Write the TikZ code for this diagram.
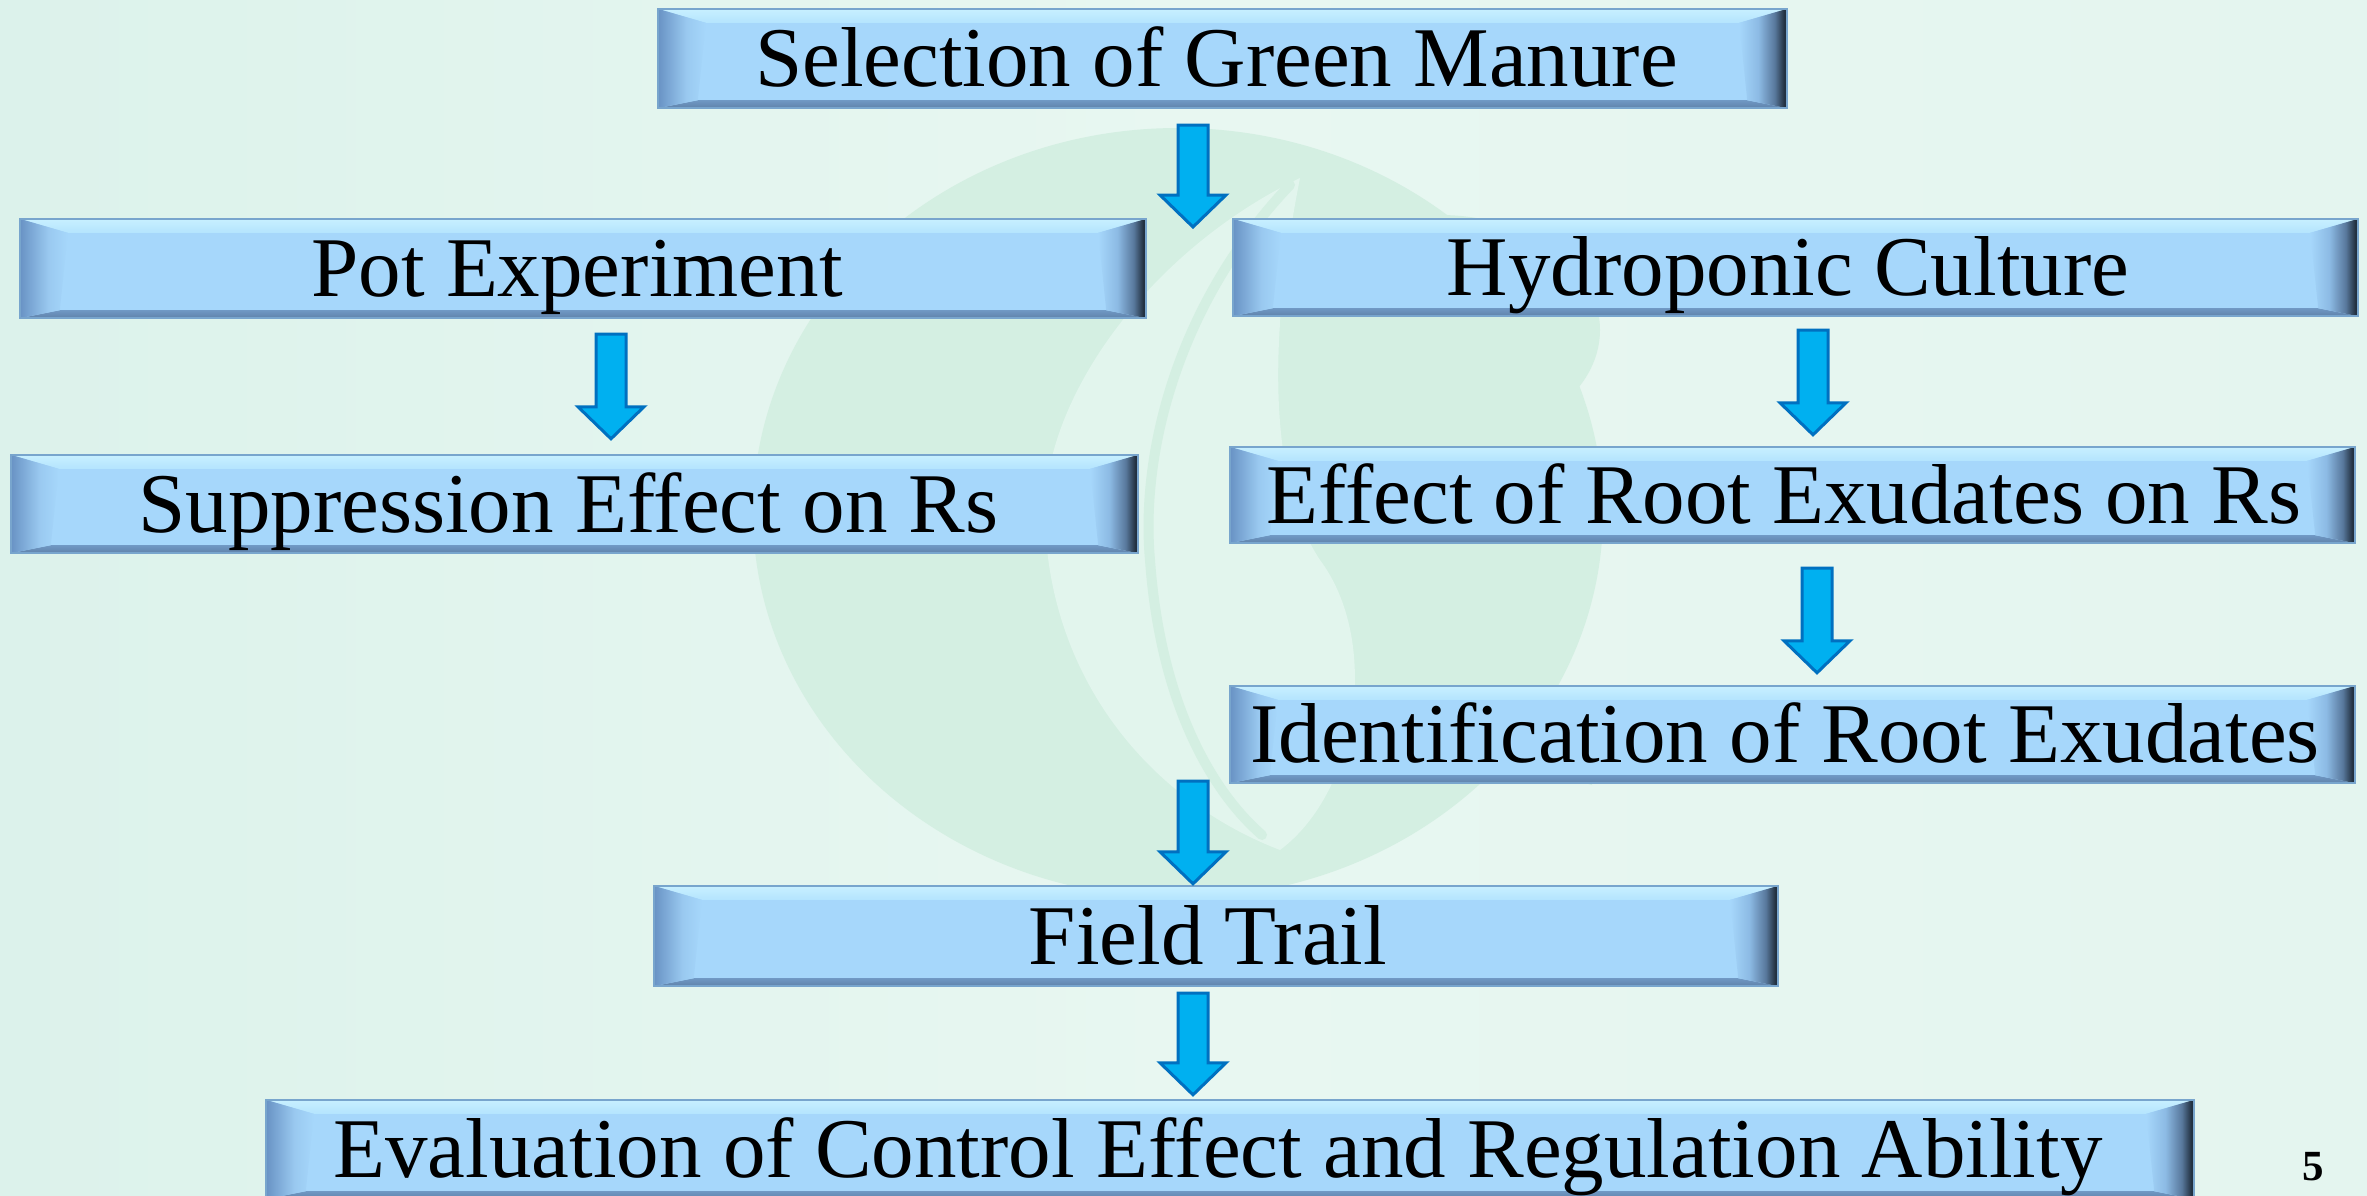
\documentclass[tikz,border=0pt]{standalone}
\usepackage{fontspec}
\setmainfont{Liberation Serif}
\usetikzlibrary{calc}
\pgfdeclarelayer{back}
\pgfdeclarelayer{bg}
\pgfsetlayers{back,bg,main}

\definecolor{face}{RGB}{166,215,251}
\definecolor{toplite}{RGB}{200,240,255}
\definecolor{topmid}{RGB}{180,228,254}
\definecolor{botbev}{RGB}{112,152,196}
\definecolor{botbevB}{RGB}{96,130,170}
\definecolor{lbev}{RGB}{104,146,196}
\definecolor{rb1}{RGB}{140,186,228}
\definecolor{rb2}{RGB}{88,120,156}
\definecolor{rb3}{RGB}{34,48,64}
\definecolor{boxline}{RGB}{120,165,205}
\definecolor{arrfill}{RGB}{0,176,240}
\definecolor{arrline}{RGB}{0,112,192}
\definecolor{bgL}{RGB}{220,242,235}
\definecolor{bgM}{RGB}{232,247,241}
\definecolor{bgR}{RGB}{228,245,239}
\definecolor{wmA}{RGB}{212,239,226}
\definecolor{wmL}{RGB}{226,245,237}

\pgfdeclarehorizontalshading{rbev}{100bp}{color(0bp)=(face); color(25bp)=(face); color(45bp)=(rb1); color(62bp)=(rb2); color(72bp)=(rb3); color(100bp)=(rb3)}
\pgfdeclarehorizontalshading{lbevsh}{100bp}{color(0bp)=(lbev); color(25bp)=(lbev); color(55bp)=(face!80!lbev); color(75bp)=(face); color(100bp)=(face)}

\tikzset{
  bbox/.style={inner sep=0pt, font=\fontsize{85}{100}\selectfont,
    text height=56pt, text depth=0pt},
  arrowsty/.style={fill=arrfill, draw=arrline, line width=3pt, line join=miter},
  pagenum/.style={inner sep=0pt, font=\fontsize{43}{50}\selectfont\bfseries}
}

\newcommand\drawbevel[1]{%
  \fill[face] (#1.south west) rectangle (#1.north east);
  \shade[top color=toplite, bottom color=topmid]
    (#1.north west) -- (#1.north east) -- ([shift={(-48pt,-14pt)}]#1.north east)
    -- ([shift={(48pt,-14pt)}]#1.north west) -- cycle;
  \shade[top color=botbev, bottom color=botbevB]
    (#1.south west) -- ([shift={(40pt,8pt)}]#1.south west)
    -- ([shift={(-40pt,8pt)}]#1.south east) -- (#1.south east) -- cycle;
  \shade[shading=lbevsh]
    (#1.south west) -- (#1.north west) -- ([shift={(48pt,-14pt)}]#1.north west)
    -- ([shift={(40pt,8pt)}]#1.south west) -- cycle;
  \shade[shading=rbev]
    ([shift={(-40pt,8pt)}]#1.south east) -- ([shift={(-48pt,-14pt)}]#1.north east)
    -- (#1.north east) -- (#1.south east) -- cycle;
  \draw[boxline, line width=1.5pt] (#1.south west) rectangle (#1.north east);
}

\newcommand\blockarrow[2]{%
  \draw[arrowsty] let \p1=(#1), \p2=(#2) in
    (\x1-15pt,\y1) -- (\x1+15pt,\y1) -- (\x1+15pt,\y2+32pt) -- (\x1+33pt,\y2+32pt)
    -- (\x1,\y2) -- (\x1-33pt,\y2+32pt) -- (\x1-15pt,\y2+32pt) -- cycle;}

\begin{document}
\begin{tikzpicture}[x=1pt,y=1pt]
\useasboundingbox (0,0) rectangle (2367,-1195);
\clip (0,0) rectangle (2367,-1195);

\begin{pgfonlayer}{back}
% background
\shade[left color=bgL, right color=bgR, middle color=bgM] (0,0) rectangle (2367,-1195);
% watermark
\fill[wmA] (1178,-513) ellipse [x radius=425, y radius=385];
\fill[wmL] (1300,-178) .. controls (1150,-250) and (1040,-400) .. (1045,-520)
  .. controls (1050,-680) and (1150,-800) .. (1280,-850)
  .. controls (1360,-790) and (1380,-640) .. (1320,-560)
  .. controls (1280,-500) and (1260,-380) .. (1300,-178) -- cycle;
\draw[wmA, line width=10pt, line cap=round] (1290,-185) .. controls (1180,-300) and (1140,-450) .. (1150,-560)
  .. controls (1160,-700) and (1210,-790) .. (1262,-835);
\fill[wmA] (1440,-330) ellipse [x radius=160, y radius=115];
\fill[wmA] (1375,-545) .. controls (1470,-580) and (1570,-660) .. (1592,-785)
  .. controls (1490,-760) and (1390,-680) .. (1375,-545) -- cycle;
\end{pgfonlayer}

% boxes
\node[bbox, minimum width=1129pt, minimum height=99pt] (b1) at (1222.5,-58.5) {Selection of Green Manure\hspace*{12pt}};
\node[bbox, minimum width=1126pt, minimum height=99pt] (b2) at (583,-268.5) {Pot Experiment\hspace*{12pt}};
\node[bbox, minimum width=1127pt, minimum height=98pt] (b3) at (574.5,-504) {Suppression Effect on Rs\hspace*{12pt}};
\node[bbox, minimum width=1125pt, minimum height=97pt] (b4) at (1795.5,-267.5) {Hydroponic Culture\hspace*{15pt}};
\node[bbox, minimum width=1125pt, minimum height=96pt] (b5) at (1792.5,-495) {Effect of Root Exudates on Rs\hspace*{17pt}};
\node[bbox, minimum width=1125pt, minimum height=97pt] (b6) at (1792.5,-734.5) {Identification of Root Exudates\hspace*{15pt}};
\node[bbox, minimum width=1124pt, minimum height=100pt] (b7) at (1216,-936) {Field Trail\hspace*{16pt}};
\node[bbox, minimum width=1928pt, minimum height=99pt] (b8) at (1230,-1149.5) {Evaluation of Control Effect and Regulation Ability\hspace*{24pt}};

\begin{pgfonlayer}{bg}
\foreach \n in {b1,b2,b3,b4,b5,b6,b7,b8} {\drawbevel{\n}}
\end{pgfonlayer}

% arrows
\coordinate (a1s) at ([yshift=-17pt]b1.south -| 1193,0);
\coordinate (a1e) at (1193,-227);
\coordinate (a2s) at ([yshift=-16pt]b2.south -| 611,0);
\coordinate (a2e) at ([yshift=16pt]b3.north -| 611,0);
\coordinate (a3s) at ([yshift=-14pt]b4.south -| 1813,0);
\coordinate (a3e) at ([yshift=12pt]b5.north -| 1813,0);
\coordinate (a4s) at ([yshift=-25pt]b5.south -| 1817,0);
\coordinate (a4e) at ([yshift=13pt]b6.north -| 1817,0);
\coordinate (a5s) at (1193,-781);
\coordinate (a5e) at ([yshift=2pt]b7.north -| 1193,0);
\coordinate (a6s) at ([yshift=-7pt]b7.south -| 1193,0);
\coordinate (a6e) at ([yshift=5pt]b8.north -| 1193,0);
\blockarrow{a1s}{a1e}
\blockarrow{a2s}{a2e}
\blockarrow{a3s}{a3e}
\blockarrow{a4s}{a4e}
\blockarrow{a5s}{a5e}
\blockarrow{a6s}{a6e}

\node[pagenum, anchor=base] (pg) at (2313,-1180) {5};
\end{tikzpicture}
\end{document}
